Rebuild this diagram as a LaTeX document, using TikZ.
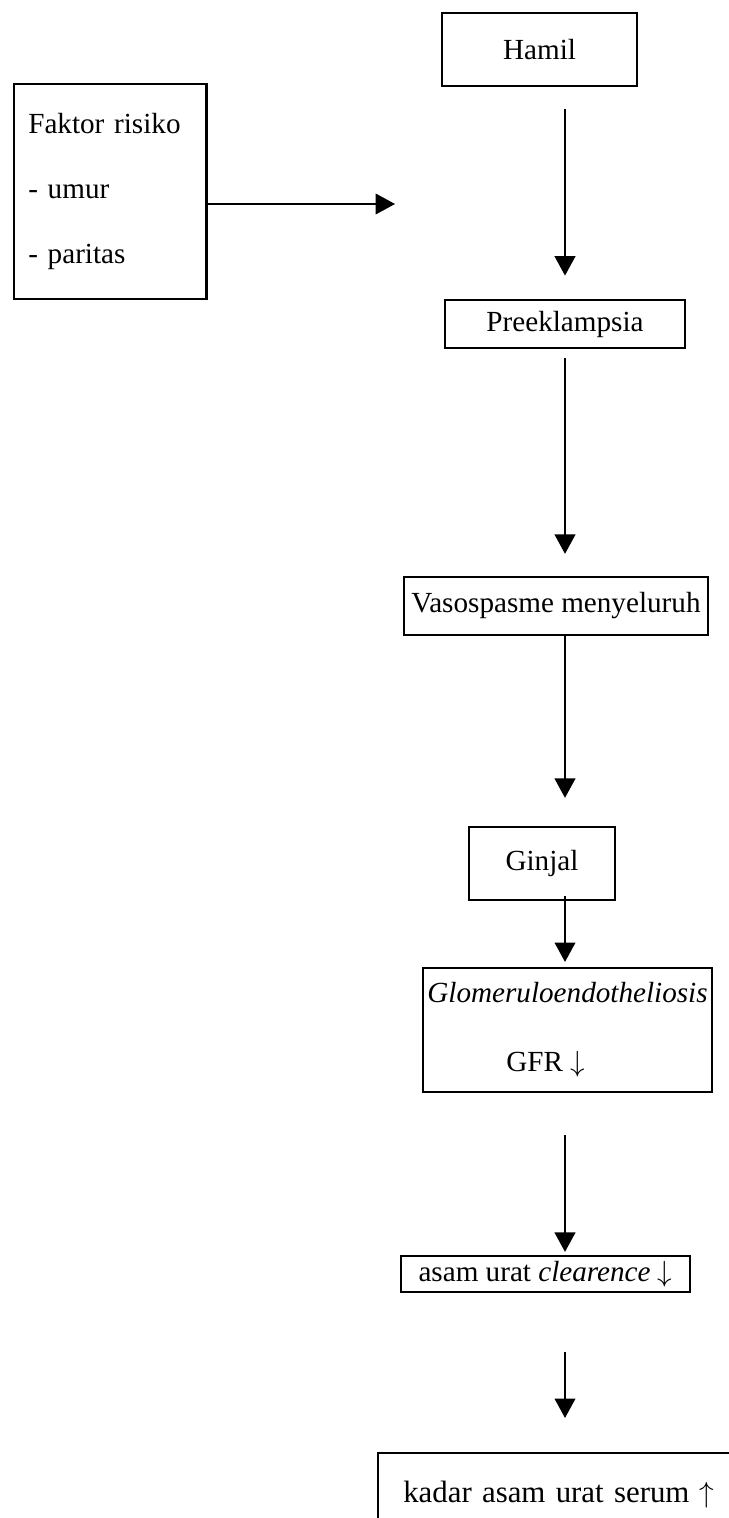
\documentclass[tikz,border=0pt]{standalone}
\usepackage{fontspec}
\setmainfont{Liberation Serif}
\usetikzlibrary{arrows.meta, positioning}
\newcommand{\px}{0.4115pt}
\tikzset{
  every picture/.style={line width=0.8pt},
  box/.style={draw, line width=1pt, inner sep=0pt, align=center, font=\fontsize{12}{14}\selectfont},
  arrow/.style={-{Triangle[length=8pt, width=8.5pt]}, line width=0.8pt},
}

\begin{document}
\begin{tikzpicture}[x=\px, y=-\px]
  \useasboundingbox (0,0) rectangle (729,1518);
  \coordinate (axis) at (565,0);

  % risk factors
  \node[box, anchor=north west, align=left, text width=67.5pt, inner xsep=5.8pt, minimum height=88.5pt] (faktor) at (13,83) {Faktor risiko\\[12.7pt]- umur\\[12.7pt]- paritas};
  \coordinate (fend) at (395,204);
  \draw[arrow] (faktor.east |- fend) -- (fend);

  % main chain
  \node[box, minimum width=80.2pt, minimum height=30pt] (hamil) at (539.5,49.5) {Hamil};
  \node[box, minimum width=98.8pt, minimum height=19.8pt] (pre) at (565,324) {Preeklampsia};
  \node[box, minimum width=125.1pt, minimum height=23.9pt] (vaso) at (556,606) {Vasospasme menyeluruh};
  \node[box, minimum width=60.1pt, minimum height=30pt] (ginjal) at (542,863.5) {Ginjal};
  \node[box, minimum width=118.9pt, minimum height=51pt] (glom) at (567.5,1030) {\itshape Glomeruloendotheliosis\\[14.4pt]GFR $\downarrow$\hspace*{18pt}};
  \node[box, minimum width=118.9pt, minimum height=14.8pt] (asam) at (545.5,1274) {asam urat \textit{clearence} $\downarrow$};
  \node[box, anchor=north west, align=left, text width=170pt, inner xsep=10.3pt, minimum height=33.7pt, font=\fontsize{12.7}{15}\selectfont] (kadar) at (377,1452) {kadar asam urat serum $\uparrow$};

  \draw[arrow, shorten <=9pt, shorten >=9.5pt] (hamil.south -| axis) -- (pre.north -| axis);
  \draw[arrow, shorten <=3.7pt, shorten >=9pt] (pre.south -| axis) -- (vaso.north -| axis);
  \draw[arrow, shorten >=11.5pt] (vaso.south -| axis) -- (ginjal.north -| axis);
  \draw[arrow, shorten <=-2pt, shorten >=2pt] (ginjal.south -| axis) -- (glom.north -| axis);
  \draw[arrow, shorten <=17.3pt, shorten >=1.2pt] (glom.south -| axis) -- (asam.north -| axis);
  \draw[arrow, shorten <=24pt, shorten >=14pt] (asam.south -| axis) -- (kadar.north -| axis);
\end{tikzpicture}
\end{document}
